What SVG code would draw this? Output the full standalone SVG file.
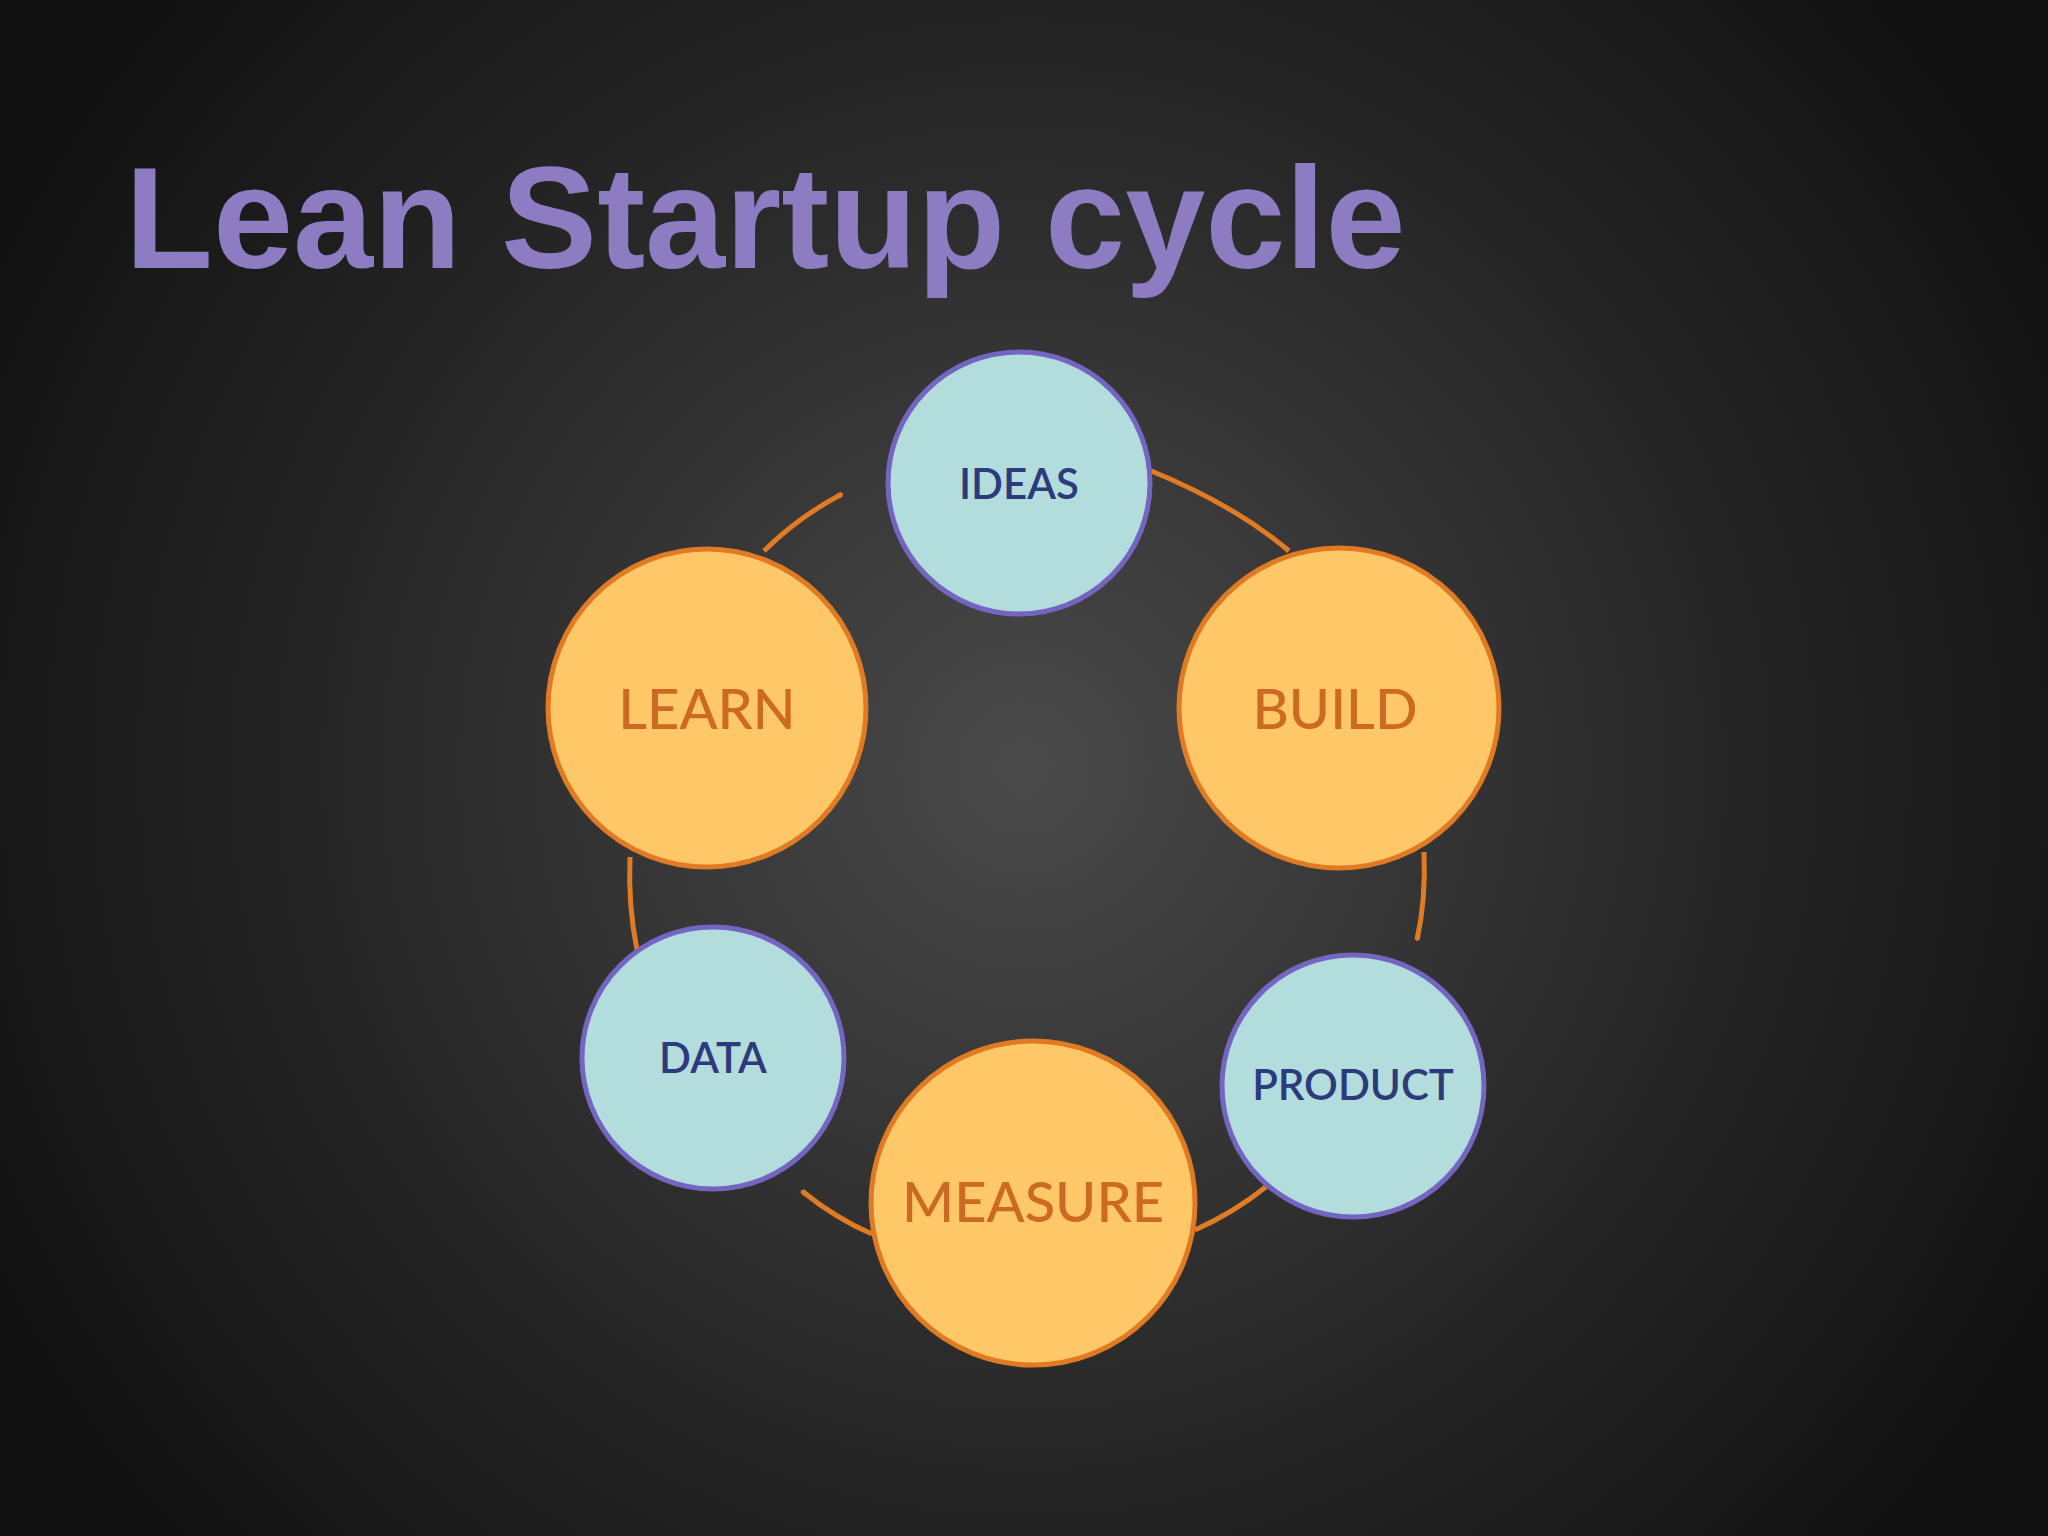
<svg xmlns="http://www.w3.org/2000/svg" width="2048" height="1536" viewBox="0 0 2048 1536">
<defs>
<radialGradient id="bg" cx="1024" cy="768" r="1150" gradientUnits="userSpaceOnUse">
<stop offset="0" stop-color="#4a4a4a"/><stop offset="0.6" stop-color="#262626"/><stop offset="1" stop-color="#121212"/>
</radialGradient>
<marker id="ah" viewBox="0 0 10 10" refX="8" refY="5" markerWidth="5" markerHeight="5" orient="auto" markerUnits="userSpaceOnUse" style="overflow:visible">
<path d="M0,0 L9,5 L0,10" fill="none" stroke="#e07b24" stroke-width="2.5"/>
</marker>
<style>
.blue{fill:#b3dcdc;stroke:#7466c0;stroke-width:5}
.org{fill:#fec868;stroke:#e07b24;stroke-width:5}
.tb{font-family:Lato,"Open Sans",sans-serif;font-size:42px;fill:#2d3a7c;text-anchor:middle;font-weight:600}
.to{font-family:Lato,"Open Sans",sans-serif;font-size:56px;fill:#cc6a22;text-anchor:middle;font-weight:500}
.c{fill:none;stroke:#e07b24;stroke-width:5}
</style>
</defs>
<rect width="2048" height="1536" fill="url(#bg)"/>
<text x="125" y="268" font-family="Liberation Sans,Arial,sans-serif" font-weight="bold" font-size="144" fill="#8e7cc3">Lean Startup cycle</text>
<g id="connectors">
<path class="c" d="M1149,470 Q1235,505 1289,551"/>
<path class="c" d="M1424,852 Q1426,900 1417,940" marker-end="url(#ah)" style="stroke-width:5"/>
<path class="c" d="M1267,1186 Q1235,1212 1195,1230"/>
<path class="c" d="M872,1234 Q835,1218 802,1191" marker-end="url(#ah)"/>
<path class="c" d="M637,950 Q628,905 630,857"/>
<path class="c" d="M764,551 Q798,517 842,494" marker-end="url(#ah)"/>
</g>
<g id="ideas"><circle class="blue" cx="1019" cy="483" r="131"/><text class="tb" x="1019" y="499">IDEAS</text></g>
<g id="build"><circle class="org" cx="1339" cy="708" r="160"/><text class="to" x="1335" y="729">BUILD</text></g>
<g id="product"><circle class="blue" cx="1353" cy="1086" r="131"/><text class="tb" x="1353" y="1100">PRODUCT</text></g>
<g id="measure"><circle class="org" cx="1033" cy="1203" r="162"/><text class="to" x="1033" y="1222">MEASURE</text></g>
<g id="data"><circle class="blue" cx="713" cy="1058" r="131"/><text class="tb" x="713" y="1073">DATA</text></g>
<g id="learn"><circle class="org" cx="707" cy="708" r="159"/><text class="to" x="707" y="729">LEARN</text></g>
</svg>
